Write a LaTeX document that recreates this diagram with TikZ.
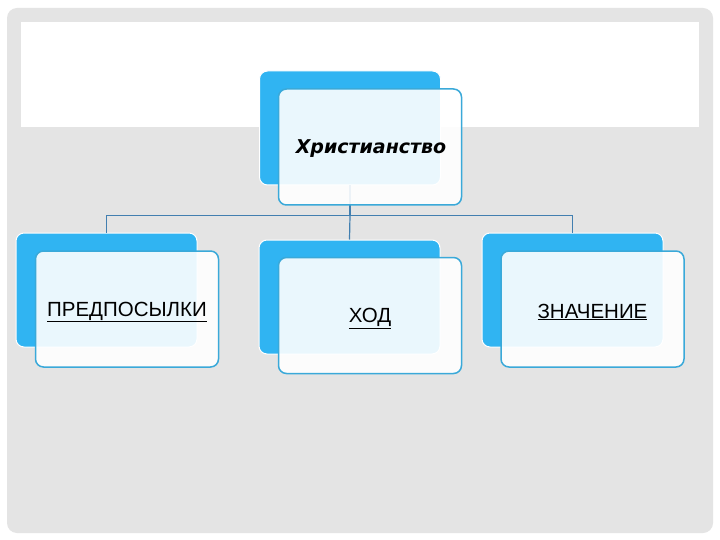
\documentclass[tikz,border=0pt]{standalone}
\usepackage{fontspec}
\setmainfont{Liberation Sans}
\newfontfamily\boldital{DejaVu Sans}
\begin{document}
\begin{tikzpicture}[x=1pt,y=-1pt,
  backbox/.style={draw=white,line width=1pt,fill=bluebk,rounded corners=8pt,minimum width=181pt,minimum height=114pt,inner sep=0pt},
  frontbox/.style={draw=blueedge,line width=1.5pt,fill=white,fill opacity=0.9,rounded corners=8pt,minimum width=183pt,minimum height=116pt,inner sep=0pt},
  lbl/.style={font=\fontsize{20.5}{23}\selectfont,text=black,inner sep=0pt},
  conn/.style={draw=connc,line width=1.2pt}]
\definecolor{bluebk}{HTML}{30B4F2}
\definecolor{blueedge}{HTML}{3AA9D9}
\definecolor{connc}{HTML}{427FB0}
\definecolor{bggray}{HTML}{E4E4E4}
\useasboundingbox (0,0) rectangle (720,540);
\fill[white] (0,0) rectangle (720,540);
\fill[bggray,rounded corners=10pt] (7,8) rectangle (713,533);
\fill[white] (21,22) rectangle (699,127);
% back boxes
\node[backbox] (bt) at (350,128) {};
\node[backbox] (bl) at (106.5,290) {};
\node[backbox] (bm) at (349.5,297) {};
\node[backbox] (br) at (572.5,290) {};
% connectors
\draw[conn] (bt.south) -- ++(0,30) coordinate (j) -| (bl.north);
\draw[conn] (j) -- (bm.north);
\draw[conn] (j) -| (br.north);
% front boxes
\node[frontbox] (ft) at (370,147) {};
\node[frontbox] (fl) at (127,309) {};
\node[frontbox] (fm) at (370,315.5) {};
\node[frontbox] (fr) at (592.5,309) {};
% labels
\node[inner sep=0pt,font=\boldital\bfseries\itshape\fontsize{19}{22}\selectfont] (tt) at (371,149) {Христианство};
\node[lbl] (tl) at ([yshift=-3pt]fl.center) {\underline{ПРЕДПОСЫЛКИ}};
\node[lbl] (tm) at ([yshift=-3pt]fm.center) {\underline{ХОД}};
\node[lbl] (tr) at ([yshift=-3pt]fr.center) {\underline{ЗНАЧЕНИЕ}};
\end{tikzpicture}
\end{document}
